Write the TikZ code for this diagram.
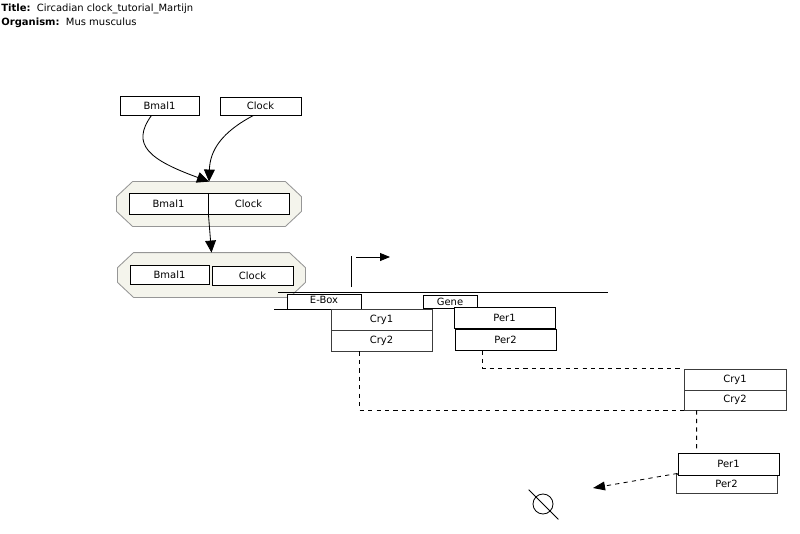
\documentclass[tikz,border=0pt]{standalone}
\usepackage{fontspec}
\setmainfont{DejaVu Sans}
\usetikzlibrary{positioning, arrows.meta}
\definecolor{cplxfill}{RGB}{244,244,236}
\definecolor{cplxedge}{RGB}{150,150,150}
\definecolor{boxedge}{RGB}{60,60,60}

\begin{document}
\begin{tikzpicture}[x=0.025cm, y=-0.025cm, line width=0.6pt,
    gbox/.style={rectangle, draw=black, fill=white, inner sep=0pt,
                 minimum width=2cm, minimum height=0.5cm, font=\fontsize{7.1}{8.5}\selectfont},
    cplx/.style={rectangle, inner sep=0pt, minimum width=4.6cm, minimum height=1.1cm},
    cplxline/.style={draw=cplxedge, fill=cplxfill},
    hdr/.style={anchor=west, inner sep=0pt, font=\fontsize{7.1}{8.5}\selectfont}]
  \useasboundingbox (0,0) rectangle (800,533);

  % header
  \node[hdr] (title) at (1,9) {\textbf{Title:}\ \ Circadian clock\_tutorial\_Martijn};
  \node[hdr] (org) at (1,23) {\textbf{Organism:}\ \ Mus musculus};

  % single proteins
  \node[gbox, minimum width=1.975cm, minimum height=0.475cm] (bmal) at (159.5,105.5) {Bmal1};
  \node[gbox, minimum width=2.025cm, minimum height=0.45cm] (clock) at (260.5,106) {Clock};

  % complexes
  \node[cplx] (cx1) at (209,204) {};
  \draw[cplxline] ([xshift=0.4cm]cx1.north west) -- ([xshift=-0.4cm]cx1.north east)
        -- ([yshift=-0.375cm]cx1.north east) -- ([yshift=0.375cm]cx1.south east)
        -- ([xshift=-0.4cm]cx1.south east) -- ([xshift=0.4cm]cx1.south west)
        -- ([yshift=0.375cm]cx1.south west) -- ([yshift=-0.375cm]cx1.north west) -- cycle;
  \node[gbox, minimum width=1.975cm, minimum height=0.525cm] (cb1) at (168.5,203.5) {Bmal1};
  \node[gbox, minimum width=2.025cm, minimum height=0.525cm] (cc1) at (248.5,203.5) {Clock};
  \node[cplx, minimum width=4.675cm] (cx2) at (211.5,275) {};
  \draw[cplxline] ([xshift=0.4cm]cx2.north west) -- ([xshift=-0.4cm]cx2.north east)
        -- ([yshift=-0.375cm]cx2.north east) -- ([yshift=0.375cm]cx2.south east)
        -- ([xshift=-0.4cm]cx2.south east) -- ([xshift=0.4cm]cx2.south west)
        -- ([yshift=0.375cm]cx2.south west) -- ([yshift=-0.375cm]cx2.north west) -- cycle;
  \node[gbox, minimum width=1.975cm, minimum height=0.475cm] (cb2) at (169.5,274.5) {Bmal1};
  \node[gbox, minimum width=2.025cm, minimum height=0.475cm] (cc2) at (252.5,275.5) {Clock};

  \draw[-{Triangle[length=0.3cm, width=0.27cm]}] (bmal.south) ++(-8,0)
        .. controls (130,145) and (150,160) .. (cx1.north);
  \draw[-{Triangle[length=0.3cm, width=0.27cm]}] (clock.south) ++(-7,0)
        .. controls (222,132) and (210,150) .. (cx1.north);
  \draw[-{Triangle[length=0.3cm, width=0.27cm]}] (cb1.south east) -- (cx2.north);

  % gene
  \draw (278,292) -- (608,292);
  \draw (274,309) -- (331,309);
  \draw (351,287) -- (351,256);
  \draw[-{Triangle[length=0.25cm, width=0.2cm]}] (356,257) -- (390,257);
  \node[gbox, minimum width=1.85cm, minimum height=0.375cm] (ebox) at (324,301.5) {\raisebox{3pt}{E-Box}};
  \node[gbox, minimum width=1.35cm, minimum height=0.325cm] (gene) at (450,301.5) {\raisebox{-1pt}{Gene}};

  \node[gbox, draw=boxedge, minimum width=2.525cm, minimum height=0.525cm] (cry1) at (381.5,319.5) {Cry1};
  \node[gbox, draw=boxedge, minimum width=2.525cm, minimum height=0.525cm] (cry2) at (381.5,340.5) {Cry2};
  \node[gbox, minimum width=2.525cm, minimum height=0.525cm] (per1) at (504.5,317.5) {Per1};
  \node[gbox, minimum width=2.525cm, minimum height=0.525cm] (per2) at (505.5,339.5) {Per2};

  % products
  \node[gbox, draw=boxedge, minimum width=2.55cm, minimum height=0.525cm] (cry1b) at (735,379.5) {Cry1};
  \node[gbox, draw=boxedge, minimum width=2.55cm, minimum height=0.5cm] (cry2b) at (735,400) {Cry2};
  \node[gbox, draw=boxedge, minimum width=2.525cm, minimum height=0.475cm] (per2b) at (726.5,483.5) {Per2};
  \node[gbox, minimum width=2.525cm, minimum height=0.55cm] (per1b) at (728.5,464) {Per1};

  \draw[dashed] ([xshift=0.725cm]cry2.south west) |- (cry2b.south west);
  \draw[dashed] ([xshift=0.7cm]per2.south west) |- (cry1b.north west);
  \draw[dashed] ([xshift=0.325cm]cry2b.south west) -- ([xshift=0.475cm]per1b.north west);

  % degradation
  \node[circle, draw, inner sep=0pt, minimum size=0.5cm] (deg) at (543,504) {};
  \draw ([shift={(-7,-7)}]deg.north west) -- ([shift={(8,8)}]deg.south east);
  \coordinate (degin) at (593,488);
  \draw[dashed, -{Triangle[length=0.3cm, width=0.22cm]}] ([yshift=0.05cm]per1b.south west) -- (degin);
\end{tikzpicture}
\end{document}
